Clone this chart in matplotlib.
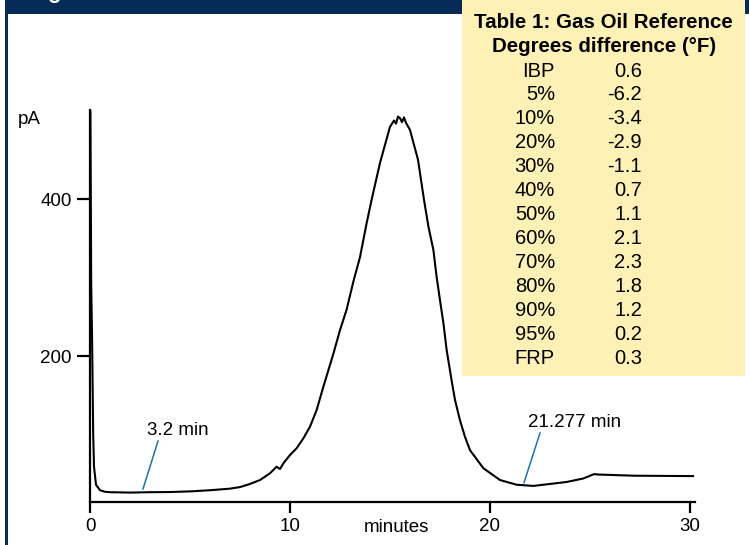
import matplotlib
matplotlib.use("Agg")
import matplotlib.pyplot as plt
from matplotlib.patches import Rectangle

plt.rcParams['font.family'] = ['Liberation Sans', 'DejaVu Sans']

# ---- data ----
time_min = [0.0, 0.02, 0.06, 0.10, 0.13, 0.16, 0.20, 0.30, 0.50, 0.75, 1.0, 2.0,
            3.0, 4.0, 5.0, 6.0, 7.0, 7.5, 8.0, 8.5, 9.0, 9.33, 9.5, 9.67, 10.0,
            10.33, 10.67, 11.0, 11.33, 11.67, 11.92, 12.17, 12.5, 12.83, 13.17,
            13.5, 13.83, 14.08, 14.5, 15.0, 15.2, 15.3, 15.4, 15.5, 15.6, 15.7,
            15.8, 16.0, 16.4, 16.7, 16.92, 17.17, 17.33, 17.5, 17.67, 17.83,
            18.08, 18.25, 18.5, 18.75, 19.0, 19.67, 20.5, 21.33, 22.17, 23.0,
            23.83, 24.67, 25.2, 25.4, 27.2, 30.15]
signal_pA = [513, 513, 290, 230, 166, 100, 59, 36, 29, 27, 26.5, 26,
             26.5, 26.7, 27.5, 29, 31, 33, 37, 42, 50.6, 59, 56, 63.3, 73.9,
             82.4, 95.2, 110, 131, 161, 182, 203, 233, 259, 295,
             326, 369, 399, 446, 492, 500, 496, 505, 503, 498, 504,
             497, 488, 450, 399, 365, 335, 301, 271, 242, 208,
             169, 144, 118, 97, 80, 57, 42, 36, 34.5, 37,
             39.5, 44, 49.5, 49, 47.5, 47]

x_ticks = [0, 10, 20, 30]
y_ticks = [200, 400]

table_title = ["Table 1: Gas Oil Reference", "Degrees difference (\u00b0F)"]
table_labels = ["IBP", "5%", "10%", "20%", "30%", "40%", "50%", "60%",
                "70%", "80%", "90%", "95%", "FRP"]
table_values = ["0.6", "-6.2", "-3.4", "-2.9", "-1.1", "0.7", "1.1", "2.1",
                "2.3", "1.8", "1.2", "0.2", "0.3"]

annotations = [("3.2 min", (2.85, 105.7), (3.4, 91.7), (2.65, 30.6)),
               ("21.277 min", (21.9, 115.9), (22.5, 101.9), (21.7, 38.6))]

# ---- figure ----
W, H = 749, 545
fig = plt.figure(figsize=(W / 100, H / 100), dpi=100)
fig.patch.set_facecolor("white")

def fx(px):
    return px / W

def fy(py):
    return 1 - py / H

navy = "#062b56"
# frame pieces
fig.add_artist(Rectangle((fx(5), fy(14)), fx(744), 14 / H, transform=fig.transFigure,
                         facecolor=navy, edgecolor="none", zorder=0))
fig.add_artist(Rectangle((fx(5), 0), fx(3), fy(14), transform=fig.transFigure,
                         facecolor=navy, edgecolor="none", zorder=0))
fig.text(fx(47), fy(3), "g", color="white", fontsize=16, fontweight="bold",
         ha="left", va="bottom")

# axes
ax = fig.add_axes([fx(90), fy(502), fx(605), 392 / H])
ax.set_xlim(0, 30.25)
ax.set_ylim(14.0, 513.4)
ax.plot(time_min, signal_pA, color="black", lw=1.5, solid_joinstyle="round")

for s in ["top", "right"]:
    ax.spines[s].set_visible(False)
for s in ["left", "bottom"]:
    ax.spines[s].set_linewidth(1.6)
ax.set_xticks(x_ticks)
ax.set_yticks(y_ticks)
ax.tick_params(axis="both", direction="out", width=1.6, labelsize=13.5)
ax.tick_params(axis="y", length=9.5, pad=3.5)
ax.tick_params(axis="x", length=8, pad=3.5)
ax.patch.set_alpha(0)

fig.text(fx(18), fy(119), "pA", fontsize=13.5, ha="left", va="center")
fig.text(fx(396), fy(528), "minutes", fontsize=13.5, ha="center", va="center")

blue = "#1f6fb2"
for label, txt_xy, p0, p1 in annotations:
    ax.text(txt_xy[0], txt_xy[1], label, fontsize=13.5, ha="left", va="center")
    ax.plot([p0[0], p1[0]], [p0[1], p1[1]], color=blue, lw=1.1)

# table box
fig.add_artist(Rectangle((fx(462), fy(376)), fx(745 - 462), 376 / H,
                         transform=fig.transFigure, facecolor="#fef1b6",
                         edgecolor="none", zorder=2))
fig.text(fx(603), fy(22), table_title[0], fontsize=14.8, fontweight="bold",
         ha="center", va="center", zorder=3)
fig.text(fx(604), fy(46), table_title[1], fontsize=14.8, fontweight="bold",
         ha="center", va="center", zorder=3)
for i, (lab, val) in enumerate(zip(table_labels, table_values)):
    yy = 71 + i * 23.96
    fig.text(fx(555), fy(yy), lab, fontsize=14.5, ha="right", va="center", zorder=3)
    fig.text(fx(642), fy(yy), val, fontsize=14.5, ha="right", va="center", zorder=3)

fig.savefig("out.png", dpi=100)
